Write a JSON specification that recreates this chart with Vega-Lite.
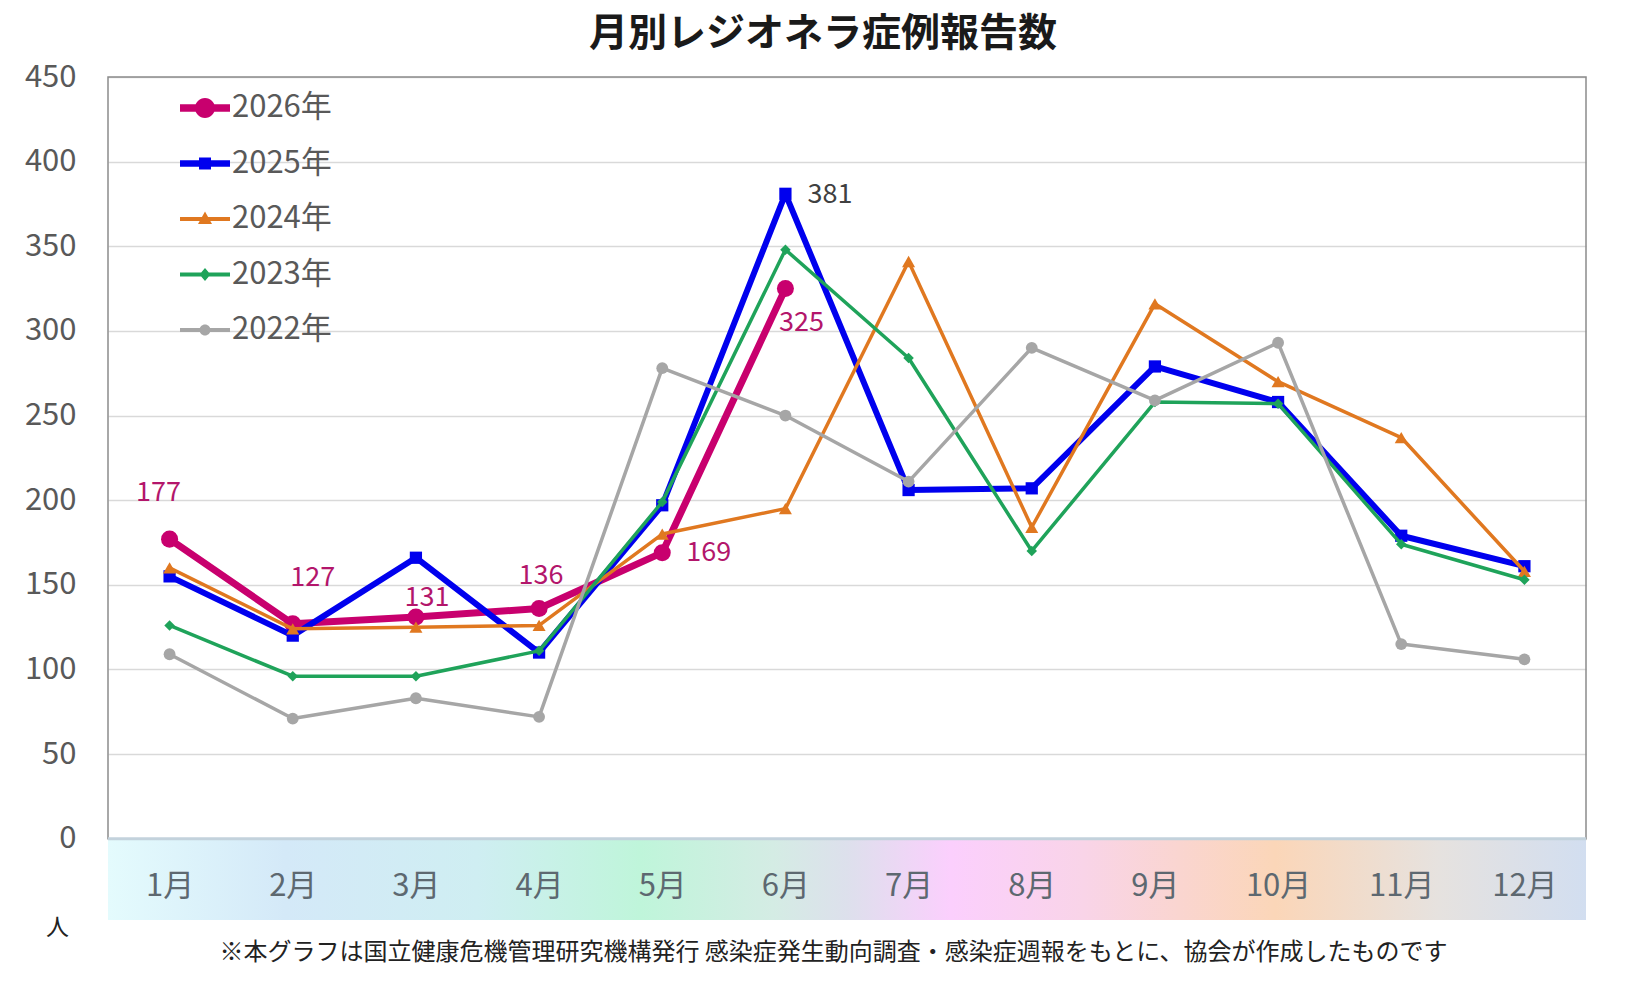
{
  "$schema": "https://vega.github.io/schema/vega-lite/v6.json",
  "autosize": {"type": "none"},
  "width": 1478,
  "height": 843,
  "padding": {"left": 108, "top": 77, "right": 43, "bottom": 72},
  "background": "white",
  "title": {
    "text": "月別レジオネラ症例報告数",
    "font": "Noto Sans CJK JP",
    "fontSize": 39,
    "fontWeight": "bold",
    "color": "#1a1a1a",
    "anchor": "middle",
    "offset": 7,
    "dx": -24
  },
  "datasets": {
    "d": [
      {"year": "2026年", "month": "1月", "value": 177},
      {"year": "2026年", "month": "2月", "value": 127},
      {"year": "2026年", "month": "3月", "value": 131},
      {"year": "2026年", "month": "4月", "value": 136},
      {"year": "2026年", "month": "5月", "value": 169},
      {"year": "2026年", "month": "6月", "value": 325},
      {"year": "2025年", "month": "1月", "value": 155},
      {"year": "2025年", "month": "2月", "value": 120},
      {"year": "2025年", "month": "3月", "value": 166},
      {"year": "2025年", "month": "4月", "value": 110},
      {"year": "2025年", "month": "5月", "value": 197},
      {"year": "2025年", "month": "6月", "value": 381},
      {"year": "2025年", "month": "7月", "value": 206},
      {"year": "2025年", "month": "8月", "value": 207},
      {"year": "2025年", "month": "9月", "value": 279},
      {"year": "2025年", "month": "10月", "value": 258},
      {"year": "2025年", "month": "11月", "value": 179},
      {"year": "2025年", "month": "12月", "value": 161},
      {"year": "2024年", "month": "1月", "value": 160},
      {"year": "2024年", "month": "2月", "value": 124},
      {"year": "2024年", "month": "3月", "value": 125},
      {"year": "2024年", "month": "4月", "value": 126},
      {"year": "2024年", "month": "5月", "value": 180},
      {"year": "2024年", "month": "6月", "value": 195},
      {"year": "2024年", "month": "7月", "value": 341},
      {"year": "2024年", "month": "8月", "value": 184},
      {"year": "2024年", "month": "9月", "value": 316},
      {"year": "2024年", "month": "10月", "value": 270},
      {"year": "2024年", "month": "11月", "value": 237},
      {"year": "2024年", "month": "12月", "value": 158},
      {"year": "2023年", "month": "1月", "value": 126},
      {"year": "2023年", "month": "2月", "value": 96},
      {"year": "2023年", "month": "3月", "value": 96},
      {"year": "2023年", "month": "4月", "value": 111},
      {"year": "2023年", "month": "5月", "value": 199},
      {"year": "2023年", "month": "6月", "value": 348},
      {"year": "2023年", "month": "7月", "value": 284},
      {"year": "2023年", "month": "8月", "value": 170},
      {"year": "2023年", "month": "9月", "value": 258},
      {"year": "2023年", "month": "10月", "value": 257},
      {"year": "2023年", "month": "11月", "value": 174},
      {"year": "2023年", "month": "12月", "value": 153},
      {"year": "2022年", "month": "1月", "value": 109},
      {"year": "2022年", "month": "2月", "value": 71},
      {"year": "2022年", "month": "3月", "value": 83},
      {"year": "2022年", "month": "4月", "value": 72},
      {"year": "2022年", "month": "5月", "value": 278},
      {"year": "2022年", "month": "6月", "value": 250},
      {"year": "2022年", "month": "7月", "value": 211},
      {"year": "2022年", "month": "8月", "value": 290},
      {"year": "2022年", "month": "9月", "value": 259},
      {"year": "2022年", "month": "10月", "value": 293},
      {"year": "2022年", "month": "11月", "value": 115},
      {"year": "2022年", "month": "12月", "value": 106}
    ],
    "band": [{"lo": -48, "hi": 0}],
    "frame": [{"lo": 0, "hi": 450}]
  },
  "layer": [
    {
      "data": {"name": "band"},
      "mark": {
        "type": "rect",
        "color": {
          "gradient": "linear",
          "stops": [
            {"offset": 0, "color": "#e4fbfd"},
            {"offset": 0.12, "color": "#d4e9f8"},
            {"offset": 0.25, "color": "#cfeef2"},
            {"offset": 0.36, "color": "#bff5da"},
            {"offset": 0.45, "color": "#d4ece4"},
            {"offset": 0.5, "color": "#dde0ec"},
            {"offset": 0.57, "color": "#fbcffd"},
            {"offset": 0.66, "color": "#f9d4e8"},
            {"offset": 0.79, "color": "#fbd6b8"},
            {"offset": 0.9, "color": "#e6e2df"},
            {"offset": 1, "color": "#d2def0"}
          ]
        }
      },
      "encoding": {
        "y": {"field": "lo", "type": "quantitative", "scale": {"domain": [-48, 450], "nice": false, "zero": false}},
        "y2": {"field": "hi"}
      }
    },
    {
      "data": {"name": "d"},
      "transform": [{"filter": "datum.year == '2026年'"}],
      "mark": {"type": "line", "strokeJoin": "round", "color": "#c8006e", "strokeWidth": 7},
      "encoding": {
        "x": {
          "field": "month", "type": "ordinal",
          "sort": ["1月","2月","3月","4月","5月","6月","7月","8月","9月","10月","11月","12月"],
          "scale": {"type": "point", "padding": 0.5, "domain": ["1月","2月","3月","4月","5月","6月","7月","8月","9月","10月","11月","12月"]},
          "axis": {
            "zindex": 1,
            "title": "※本グラフは国立健康危機管理研究機構発行 感染症発生動向調査・感染症週報をもとに、協会が作成したものです",
            "titleFont": "Noto Sans CJK JP",
            "titleFontSize": 24,
            "titleFontWeight": "normal",
            "titleColor": "#222222",
            "titleX": 725,
            "titleY": 32,
            "titleAlign": "center",
            "titleBaseline": "middle",
            "domain": false,
            "ticks": false,
            "tickSize": 0,
            "grid": false,
            "labelAngle": 0,
            "labelFont": "Noto Sans CJK JP",
            "labelFontSize": 31,
            "labelColor": "#5d6870",
            "labelBaseline": "middle",
            "labelPadding": -34
          }
        },
        "y": {
          "field": "value", "type": "quantitative",
          "axis": {
            "values": [0, 50, 100, 150, 200, 250, 300, 350, 400, 450],
            "title": "人",
            "titleAngle": 0,
            "titleX": -51,
            "titleY": 850,
            "titleAlign": "center",
            "titleBaseline": "middle",
            "titleFont": "Noto Sans CJK JP",
            "titleFontSize": 23,
            "titleFontWeight": "normal",
            "titleColor": "#222222",
            "domain": false,
            "ticks": false,
            "tickSize": 0,
            "grid": true,
            "gridColor": "#d9d9d9",
            "gridWidth": 1.5,
            "labelFont": "Noto Sans CJK JP",
            "labelFontSize": 31,
            "labelColor": "#595959",
            "labelPadding": 32
          }
        }
      }
    },
    {
      "data": {"name": "d"},
      "transform": [{"filter": "datum.year == '2026年'"}],
      "mark": {"type": "point", "filled": true, "opacity": 1, "shape": "circle", "size": 290, "color": "#c8006e"},
      "encoding": {
        "x": {"field": "month", "type": "ordinal", "sort": ["1月","2月","3月","4月","5月","6月","7月","8月","9月","10月","11月","12月"]},
        "y": {"field": "value", "type": "quantitative"}
      }
    },
    {
      "data": {"name": "d"},
      "transform": [{"filter": "datum.year == '2025年'"}],
      "mark": {"type": "line", "strokeJoin": "round", "color": "#0000ee", "strokeWidth": 6},
      "encoding": {
        "x": {"field": "month", "type": "ordinal", "sort": ["1月","2月","3月","4月","5月","6月","7月","8月","9月","10月","11月","12月"]},
        "y": {"field": "value", "type": "quantitative"}
      }
    },
    {
      "data": {"name": "d"},
      "transform": [{"filter": "datum.year == '2025年'"}],
      "mark": {"type": "point", "filled": true, "opacity": 1, "shape": "square", "size": 150, "color": "#0000ee"},
      "encoding": {
        "x": {"field": "month", "type": "ordinal", "sort": ["1月","2月","3月","4月","5月","6月","7月","8月","9月","10月","11月","12月"]},
        "y": {"field": "value", "type": "quantitative"}
      }
    },
    {
      "data": {"name": "d"},
      "transform": [{"filter": "datum.year == '2024年'"}],
      "mark": {"type": "line", "strokeJoin": "round", "color": "#e07820", "strokeWidth": 3.5},
      "encoding": {
        "x": {"field": "month", "type": "ordinal", "sort": ["1月","2月","3月","4月","5月","6月","7月","8月","9月","10月","11月","12月"]},
        "y": {"field": "value", "type": "quantitative"}
      }
    },
    {
      "data": {"name": "d"},
      "transform": [{"filter": "datum.year == '2024年'"}],
      "mark": {"type": "point", "filled": true, "opacity": 1, "shape": "triangle-up", "size": 170, "color": "#e07820"},
      "encoding": {
        "x": {"field": "month", "type": "ordinal", "sort": ["1月","2月","3月","4月","5月","6月","7月","8月","9月","10月","11月","12月"]},
        "y": {"field": "value", "type": "quantitative"}
      }
    },
    {
      "data": {"name": "d"},
      "transform": [{"filter": "datum.year == '2023年'"}],
      "mark": {"type": "line", "strokeJoin": "round", "color": "#1fa35a", "strokeWidth": 3.5},
      "encoding": {
        "x": {"field": "month", "type": "ordinal", "sort": ["1月","2月","3月","4月","5月","6月","7月","8月","9月","10月","11月","12月"]},
        "y": {"field": "value", "type": "quantitative"}
      }
    },
    {
      "data": {"name": "d"},
      "transform": [{"filter": "datum.year == '2023年'"}],
      "mark": {"type": "point", "filled": true, "opacity": 1, "shape": "diamond", "size": 110, "color": "#1fa35a"},
      "encoding": {
        "x": {"field": "month", "type": "ordinal", "sort": ["1月","2月","3月","4月","5月","6月","7月","8月","9月","10月","11月","12月"]},
        "y": {"field": "value", "type": "quantitative"}
      }
    },
    {
      "data": {"name": "d"},
      "transform": [{"filter": "datum.year == '2022年'"}],
      "mark": {"type": "line", "strokeJoin": "round", "color": "#a6a6a6", "strokeWidth": 3.5},
      "encoding": {
        "x": {"field": "month", "type": "ordinal", "sort": ["1月","2月","3月","4月","5月","6月","7月","8月","9月","10月","11月","12月"]},
        "y": {"field": "value", "type": "quantitative"}
      }
    },
    {
      "data": {"name": "d"},
      "transform": [{"filter": "datum.year == '2022年'"}],
      "mark": {"type": "point", "filled": true, "opacity": 1, "shape": "circle", "size": 140, "color": "#a6a6a6"},
      "encoding": {
        "x": {"field": "month", "type": "ordinal", "sort": ["1月","2月","3月","4月","5月","6月","7月","8月","9月","10月","11月","12月"]},
        "y": {"field": "value", "type": "quantitative"}
      }
    },
    {
      "data": {"name": "frame"},
      "mark": {"type": "rect", "filled": false, "color": "#8c8c8c", "strokeWidth": 1.5},
      "encoding": {
        "y": {"field": "lo", "type": "quantitative"},
        "y2": {"field": "hi"}
      }
    },
    {
      "data": {"name": "band"},
      "mark": {"type": "rule", "color": "#c3d2dc", "strokeWidth": 3},
      "encoding": {
        "y": {"field": "hi", "type": "quantitative"}
      }
    },
    {
      "data": {"name": "d"},
      "transform": [{"filter": "datum.value < 0"}],
      "mark": {"type": "point", "filled": true, "opacity": 1},
      "encoding": {
        "x": {"field": "month", "type": "ordinal", "sort": ["1月","2月","3月","4月","5月","6月","7月","8月","9月","10月","11月","12月"]},
        "y": {"field": "value", "type": "quantitative"},
        "color": {"field": "year", "type": "nominal", "legend": {"title": null},
          "scale": {"domain": ["2026年","2025年","2024年","2023年","2022年"], "range": ["#c8006e","#0000ee","#e07820","#1fa35a","#a6a6a6"]}},
        "shape": {"field": "year", "type": "nominal", "legend": {"title": null},
          "scale": {"domain": ["2026年","2025年","2024年","2023年","2022年"], "range": [
            "M-1,-0.15H1V0.15H-1Z M-0.4,0A0.4,0.4 0 1,1 0.4,0A0.4,0.4 0 1,1 -0.4,0Z",
            "M-1,-0.13H1V0.13H-1Z M-0.24,-0.24H0.24V0.24H-0.24Z",
            "M-1,-0.08H1V0.08H-1Z M0,-0.3L0.28,0.2H-0.28Z",
            "M-1,-0.08H1V0.08H-1Z M0,-0.26L0.22,0L0,0.26L-0.22,0Z",
            "M-1,-0.08H1V0.08H-1Z M-0.22,0A0.22,0.22 0 1,1 0.22,0A0.22,0.22 0 1,1 -0.22,0Z"
          ]}}
      }
    },
    {
      "data": {"name": "d"},
      "transform": [{"filter": "datum.year == '2026年' && datum.month == '1月'"}],
      "mark": {"type": "text", "font": "Noto Sans CJK JP", "fontSize": 27, "color": "#b3166b", "align": "center", "baseline": "middle", "dx": -11, "dy": -46},
      "encoding": {
        "x": {"field": "month", "type": "ordinal", "sort": ["1月","2月","3月","4月","5月","6月","7月","8月","9月","10月","11月","12月"]},
        "y": {"field": "value", "type": "quantitative"},
        "text": {"field": "value"}
      }
    },
    {
      "data": {"name": "d"},
      "transform": [{"filter": "datum.year == '2026年' && datum.month == '2月'"}],
      "mark": {"type": "text", "font": "Noto Sans CJK JP", "fontSize": 27, "color": "#b3166b", "align": "center", "baseline": "middle", "dx": 20, "dy": -46},
      "encoding": {
        "x": {"field": "month", "type": "ordinal", "sort": ["1月","2月","3月","4月","5月","6月","7月","8月","9月","10月","11月","12月"]},
        "y": {"field": "value", "type": "quantitative"},
        "text": {"field": "value"}
      }
    },
    {
      "data": {"name": "d"},
      "transform": [{"filter": "datum.year == '2026年' && datum.month == '3月'"}],
      "mark": {"type": "text", "font": "Noto Sans CJK JP", "fontSize": 27, "color": "#b3166b", "align": "center", "baseline": "middle", "dx": 11, "dy": -19},
      "encoding": {
        "x": {"field": "month", "type": "ordinal", "sort": ["1月","2月","3月","4月","5月","6月","7月","8月","9月","10月","11月","12月"]},
        "y": {"field": "value", "type": "quantitative"},
        "text": {"field": "value"}
      }
    },
    {
      "data": {"name": "d"},
      "transform": [{"filter": "datum.year == '2026年' && datum.month == '4月'"}],
      "mark": {"type": "text", "font": "Noto Sans CJK JP", "fontSize": 27, "color": "#b3166b", "align": "center", "baseline": "middle", "dx": 2, "dy": -33},
      "encoding": {
        "x": {"field": "month", "type": "ordinal", "sort": ["1月","2月","3月","4月","5月","6月","7月","8月","9月","10月","11月","12月"]},
        "y": {"field": "value", "type": "quantitative"},
        "text": {"field": "value"}
      }
    },
    {
      "data": {"name": "d"},
      "transform": [{"filter": "datum.year == '2026年' && datum.month == '5月'"}],
      "mark": {"type": "text", "font": "Noto Sans CJK JP", "fontSize": 27, "color": "#b3166b", "align": "left", "baseline": "middle", "dx": 24, "dy": 0},
      "encoding": {
        "x": {"field": "month", "type": "ordinal", "sort": ["1月","2月","3月","4月","5月","6月","7月","8月","9月","10月","11月","12月"]},
        "y": {"field": "value", "type": "quantitative"},
        "text": {"field": "value"}
      }
    },
    {
      "data": {"name": "d"},
      "transform": [{"filter": "datum.year == '2026年' && datum.month == '6月'"}],
      "mark": {"type": "text", "font": "Noto Sans CJK JP", "fontSize": 27, "color": "#b3166b", "align": "center", "baseline": "middle", "dx": 16, "dy": 34},
      "encoding": {
        "x": {"field": "month", "type": "ordinal", "sort": ["1月","2月","3月","4月","5月","6月","7月","8月","9月","10月","11月","12月"]},
        "y": {"field": "value", "type": "quantitative"},
        "text": {"field": "value"}
      }
    },
    {
      "data": {"name": "d"},
      "transform": [{"filter": "datum.year == '2025年' && datum.month == '6月'"}],
      "mark": {"type": "text", "font": "Noto Sans CJK JP", "fontSize": 27, "color": "#404040", "align": "left", "baseline": "middle", "dx": 22, "dy": 1},
      "encoding": {
        "x": {"field": "month", "type": "ordinal", "sort": ["1月","2月","3月","4月","5月","6月","7月","8月","9月","10月","11月","12月"]},
        "y": {"field": "value", "type": "quantitative"},
        "text": {"field": "value"}
      }
    }
  ],
  "config": {
    "view": {"stroke": null},
    "font": "Noto Sans CJK JP",
    "legend": {
      "orient": "none",
      "legendX": 72,
      "legendY": 6,
      "padding": 0,
      "symbolSize": 2500,
      "symbolStrokeWidth": 0,
      "symbolOpacity": 1,
      "labelFont": "Noto Sans CJK JP",
      "labelFontSize": 31,
      "labelColor": "#595959",
      "labelOffset": 2,
      "rowPadding": 15.5
    }
  }
}
